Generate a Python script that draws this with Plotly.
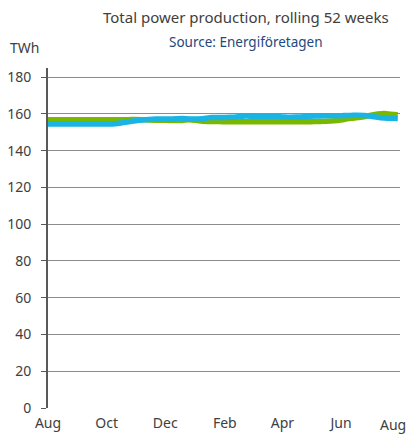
import plotly.graph_objects as go
import pandas as pd

start = pd.Timestamp("2015-08-01")
dates = [start + pd.Timedelta(days=7 * i) for i in range(53)]

green = [156.8, 156.8, 156.8, 156.8, 156.8, 156.8, 156.8, 156.8, 156.8, 156.8,
         156.8, 156.8, 156.9, 157.0, 156.9, 156.7, 156.6, 156.6, 156.5, 156.4,
         156.5, 156.8, 156.5, 156.0, 155.9, 155.9, 155.8, 155.8, 155.8, 155.8,
         155.8, 155.8, 155.8, 155.8, 155.8, 155.8, 155.8, 155.8, 155.8, 155.8,
         155.9, 156.0, 156.1, 156.4, 157.0, 157.6, 158.0, 158.5, 159.3, 160.0,
         160.3, 159.8, 159.6]

blue = [154.5, 154.5, 154.5, 154.5, 154.5, 154.5, 154.5, 154.5, 154.5, 154.5,
        154.7, 155.2, 155.8, 156.3, 156.7, 157.0, 157.2, 157.3, 157.2, 157.4,
        157.5, 157.3, 157.3, 157.4, 158.0, 158.0, 158.1, 158.2, 158.4, 158.8,
        158.8, 158.8, 158.8, 158.8, 158.7, 158.4, 158.2, 158.3, 158.5, 158.8,
        158.9, 159.0, 159.0, 159.0, 159.1, 159.2, 159.3, 159.2, 158.8, 158.2,
        157.8, 157.6, 157.5]

tick_dates = ["2015-08-01", "2015-10-01", "2015-12-01", "2016-02-01",
              "2016-04-01", "2016-06-01", "2016-08-01"]
tick_text = ["Aug", "Oct", "Dec", "Feb", "Apr", "Jun", "Aug"]
y_ticks = list(range(0, 181, 20))

FONT = "Noto Sans"
TXT = "#404040"
XFS = 14

fig = go.Figure()
fig.add_trace(go.Scatter(x=dates, y=green, mode="lines",
                         line=dict(color="#7AB800", width=5.5, shape="spline"),
                         showlegend=False))
fig.add_trace(go.Scatter(x=dates, y=blue, mode="lines",
                         line=dict(color="#1AB4E4", width=5.5, shape="spline"),
                         showlegend=False))

# last tick label is drawn as an annotation so it stays inside the page
shown_text = tick_text[:-1] + [""]

fig.update_layout(
    width=409, height=436,
    margin=dict(l=48, r=9, t=68, b=28, autoexpand=False),
    paper_bgcolor="white", plot_bgcolor="white",
    font=dict(family=FONT, color=TXT, size=13),
    xaxis=dict(range=["2015-08-01", "2016-08-01 08:00"], tickvals=tick_dates,
               ticktext=shown_text, showgrid=False, zeroline=False,
               showline=False, ticks="", ticklabelstandoff=5, automargin=False,
               tickfont=dict(size=XFS, color=TXT)),
    yaxis=dict(range=[0, 185], tickvals=y_ticks, showgrid=True,
               gridcolor="#8c8c8c", gridwidth=1, zeroline=False,
               showline=True, linecolor="#595959", linewidth=2,
               ticks="outside", ticklen=5, tickcolor="#595959",
               ticklabelstandoff=7, automargin=False,
               tickfont=dict(size=14, color=TXT)),
    annotations=[
        dict(text="Total power production, rolling 52 weeks", xref="paper",
             yref="paper", x=0.5625, y=1.15, xanchor="center", yanchor="middle",
             showarrow=False, font=dict(size=15, color=TXT, family=FONT)),
        dict(text="Source: Energiföretagen", xref="paper", yref="paper",
             x=0.5625, y=1.076, xanchor="center", yanchor="middle",
             showarrow=False, font=dict(size=13.5, color="#1F497D", family=FONT)),
        dict(text="TWh", xref="paper", yref="paper", x=-0.068, y=1.059,
             xanchor="center", yanchor="middle", showarrow=False,
             font=dict(size=14, color=TXT, family=FONT)),
        dict(text=tick_text[-1], xref="x", yref="paper", x=tick_dates[-1], y=0,
             xanchor="right", yanchor="top", xshift=8, yshift=-5,
             showarrow=False, font=dict(size=XFS, color=TXT, family=FONT)),
    ],
)
fig.write_html("out.html", config={"displayModeBar": False},
               post_script="document.body.style.margin='0';"
                           "document.body.style.overflow='hidden';")
